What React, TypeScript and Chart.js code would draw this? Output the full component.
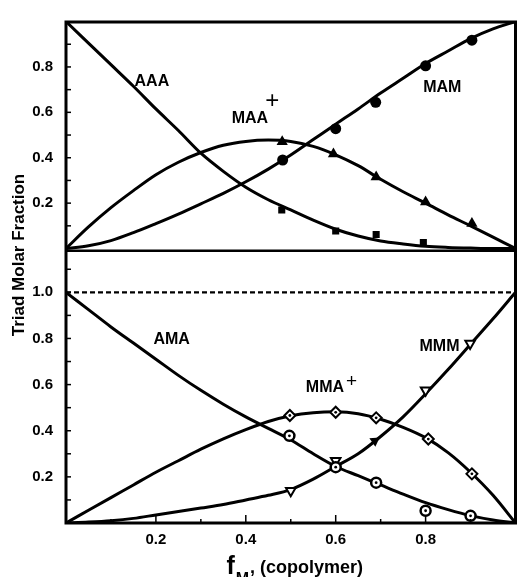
import React, { useEffect, useRef } from 'react';
import { Chart, registerables } from 'chart.js';
Chart.register(...registerables);

// composition axis (f_M, copolymer)
const fGrid = [0, 0.05, 0.1, 0.15, 0.2, 0.25, 0.3, 0.35, 0.4, 0.45, 0.5, 0.55, 0.6, 0.65, 0.7, 0.75, 0.8, 0.85, 0.9, 0.95, 1.0];

// top panel: A-centred triads (fitted curves)
const AAA_fit = [1.0, 0.905, 0.81, 0.715, 0.615, 0.52, 0.42, 0.34, 0.27, 0.215, 0.17, 0.125, 0.085, 0.055, 0.033, 0.02, 0.01, 0.005, 0.002, 0.0, 0.0];
const MAA_fit = [0, 0.095, 0.18, 0.255, 0.325, 0.38, 0.423, 0.455, 0.472, 0.478, 0.472, 0.45, 0.413, 0.365, 0.305, 0.25, 0.2, 0.148, 0.1, 0.05, 0];
const MAM_fit = [0, 0.012, 0.035, 0.07, 0.11, 0.152, 0.197, 0.243, 0.294, 0.35, 0.412, 0.48, 0.548, 0.615, 0.685, 0.75, 0.815, 0.87, 0.925, 0.968, 1.0];

// bottom panel: M-centred triads (fitted curves)
const AMA_fit = [1.0, 0.925, 0.85, 0.78, 0.71, 0.64, 0.575, 0.515, 0.46, 0.41, 0.36, 0.3, 0.245, 0.205, 0.165, 0.125, 0.088, 0.058, 0.032, 0.013, 0];
const MMA_fit = [0, 0.055, 0.11, 0.165, 0.22, 0.27, 0.32, 0.365, 0.405, 0.44, 0.465, 0.478, 0.482, 0.474, 0.45, 0.415, 0.37, 0.305, 0.22, 0.12, 0];
const MMM_fit = [0, 0.004, 0.01, 0.02, 0.035, 0.05, 0.065, 0.08, 0.1, 0.12, 0.145, 0.19, 0.245, 0.3, 0.375, 0.46, 0.56, 0.665, 0.775, 0.885, 1.0];

// experimental points, top panel
const AAA_ptX = [0.48, 0.6, 0.69, 0.795];
const AAA_ptY = [0.17, 0.077, 0.062, 0.026];
const MAA_ptX = [0.481, 0.595, 0.69, 0.8, 0.903];
const MAA_ptY = [0.47, 0.416, 0.315, 0.205, 0.11];
const MAM_ptX = [0.482, 0.6, 0.689, 0.8, 0.903];
const MAM_ptY = [0.39, 0.528, 0.644, 0.805, 0.918];

// experimental points, bottom panel
const AMA_ptX = [0.497, 0.6, 0.69, 0.8, 0.9];
const AMA_ptY = [0.378, 0.242, 0.175, 0.053, 0.031];
const MMA_ptX = [0.498, 0.6, 0.69, 0.806, 0.903];
const MMA_ptY = [0.466, 0.48, 0.456, 0.364, 0.213];
const MMM_ptX = [0.5, 0.6, 0.8, 0.899];
const MMM_ptY = [0.14, 0.27, 0.575, 0.778];
const MMM_solidX = [0.687];
const MMM_solidY = [0.356];

// reference line (sum = 1.0) in bottom panel
const refX = [0, 1];
const refY = [1.0, 1.0];

// tick labels
const xTickLabels = [0.2, 0.4, 0.6, 0.8];
const topTickLabels = [0.2, 0.4, 0.6, 0.8];
const bottomTickLabels = [0.2, 0.4, 0.6, 0.8, 1.0];
const xMinorTicks = [0.1, 0.2, 0.3, 0.4, 0.5, 0.6, 0.7, 0.8, 0.9];
const topMinorTicks = [0.1, 0.2, 0.3, 0.4, 0.5, 0.6, 0.7, 0.8, 0.9];
const bottomMinorTicks = [0.1, 0.2, 0.3, 0.4, 0.5, 0.6, 0.7, 0.8, 0.9, 1.0, 1.1];

// in-plot labels
const labelTexts = ['AAA', 'MAA', '+', 'MAM', 'AMA', 'MMA', '+', 'MMM'];
const labelF = [0.191, 0.409, 0.459, 0.837, 0.235, 0.576, 0.635, 0.831];
const labelV = [0.737, 0.572, 0.65, 0.707, 0.795, 0.586, 0.611, 0.765];
const labelAxis = ['yTop', 'yTop', 'yTop', 'yTop', 'yBot', 'yBot', 'yBot', 'yBot'];

const FONT = '"Liberation Sans", Arial, sans-serif';

const zip = (xs: number[], ys: number[]) => xs.map((x, i) => ({ x, y: ys[i] }));

const curve = (vals: number[], axis: string) => ({
  type: 'line' as const,
  data: zip(fGrid, vals),
  yAxisID: axis,
  borderColor: '#000',
  borderWidth: 3,
  pointRadius: 0,
  cubicInterpolationMode: 'monotone' as const,
  fill: false,
  order: 10,
});

const marks = (xs: number[], ys: number[], axis: string, order: number, style: any) => ({
  type: 'line' as const,
  data: zip(xs, ys),
  yAxisID: axis,
  showLine: false,
  pointBorderColor: '#000',
  order,
  ...style,
});

const decor = {
  id: 'decor',
  afterDatasetsDraw(chart: any) {
    const { ctx, chartArea: ca, scales } = chart;
    const x = scales.x;
    const yt = scales.yTop;
    const yb = scales.yBot;
    const line = (x1: number, y1: number, x2: number, y2: number) => {
      ctx.beginPath();
      ctx.moveTo(x1, y1);
      ctx.lineTo(x2, y2);
      ctx.stroke();
    };
    ctx.save();
    ctx.strokeStyle = '#000';
    ctx.fillStyle = '#000';
    ctx.lineWidth = 1.5;
    for (const v of topMinorTicks) {
      const py = yt.getPixelForValue(v);
      line(ca.left, py, ca.left + 5, py);
    }
    for (const v of bottomMinorTicks) {
      const py = yb.getPixelForValue(v);
      line(ca.left, py, ca.left + 5, py);
    }
    for (const v of xMinorTicks) {
      const px = x.getPixelForValue(v);
      const major = xTickLabels.some((t) => Math.abs(t - v) < 1e-6);
      line(px, ca.bottom, px, ca.bottom - (major ? 8 : 4));
    }
    // frame and panel divider
    ctx.lineWidth = 3;
    ctx.strokeRect(ca.left, ca.top, ca.right - ca.left, ca.bottom - ca.top);
    ctx.lineWidth = 2.5;
    line(ca.left, yt.bottom, ca.right, yt.bottom);

    // in-plot labels
    ctx.textAlign = 'center';
    ctx.textBaseline = 'middle';
    labelTexts.forEach((t, i) => {
      const sc = labelAxis[i] === 'yTop' ? yt : yb;
      if (t === '+') {
        ctx.font = `${labelAxis[i] === 'yTop' ? 24 : 19}px ${FONT}`;
      } else {
        ctx.font = `bold 16px ${FONT}`;
      }
      ctx.fillText(t, x.getPixelForValue(labelF[i]), sc.getPixelForValue(labelV[i]));
    });

    // y-axis title
    ctx.save();
    ctx.translate(19, 255);
    ctx.rotate(-Math.PI / 2);
    ctx.font = `bold 17px ${FONT}`;
    ctx.textAlign = 'center';
    ctx.textBaseline = 'middle';
    ctx.fillText('Triad Molar Fraction', 0, 0);
    ctx.restore();

    // x-axis title: f_M, (copolymer)
    ctx.textAlign = 'left';
    ctx.textBaseline = 'alphabetic';
    const cx = (ca.left + ca.right) / 2;
    ctx.font = `bold 18px ${FONT}`;
    const rest = ', (copolymer)';
    const wRest = ctx.measureText(rest).width;
    ctx.font = `bold 25px ${FONT}`;
    const wf = ctx.measureText('f').width;
    ctx.font = `bold 16px ${FONT}`;
    const wM = ctx.measureText('M').width;
    const total = wf + wM + wRest + 2;
    let tx = cx - total / 2 + 4;
    ctx.font = `bold 25px ${FONT}`;
    ctx.fillText('f', tx, 574);
    tx += wf + 1;
    ctx.font = `bold 16px ${FONT}`;
    ctx.fillText('M', tx, 584);
    tx += wM + 1;
    ctx.font = `bold 18px ${FONT}`;
    ctx.fillText(rest, tx, 573);
    ctx.restore();
  },
};

export default function App() {
  const ref = useRef<HTMLCanvasElement | null>(null);
  useEffect(() => {
    document.body.style.margin = '0';
    const canvas = ref.current!;
    const tickFont = { family: FONT, weight: 'bold' as const, size: 15 };
    const chart = new Chart(canvas, {
      type: 'line',
      data: {
        datasets: [
          curve(AAA_fit, 'yTop'),
          curve(MAA_fit, 'yTop'),
          curve(MAM_fit, 'yTop'),
          curve(AMA_fit, 'yBot'),
          curve(MMA_fit, 'yBot'),
          curve(MMM_fit, 'yBot'),
          {
            type: 'line',
            data: zip(refX, refY),
            yAxisID: 'yBot',
            borderColor: '#000',
            borderWidth: 2.2,
            borderDash: [5, 3],
            pointRadius: 0,
            order: 10,
          },
          marks(AAA_ptX, AAA_ptY, 'yTop', 5, { pointStyle: 'rect', pointRadius: 5, pointBackgroundColor: '#000', pointBorderWidth: 0 }),
          marks(MAA_ptX, MAA_ptY, 'yTop', 5, { pointStyle: 'triangle', pointRadius: 6.5, pointBackgroundColor: '#000', pointBorderWidth: 0 }),
          marks(MAM_ptX, MAM_ptY, 'yTop', 5, { pointStyle: 'circle', pointRadius: 5.5, pointBackgroundColor: '#000', pointBorderWidth: 0 }),
          marks(AMA_ptX, AMA_ptY, 'yBot', 5, { pointStyle: 'circle', pointRadius: 5, pointBackgroundColor: '#fff', pointBorderWidth: 2.5 }),
          marks(AMA_ptX, AMA_ptY, 'yBot', 1, { pointStyle: 'circle', pointRadius: 1.4, pointBackgroundColor: '#000', pointBorderWidth: 0 }),
          marks(MMA_ptX, MMA_ptY, 'yBot', 5, { pointStyle: 'rectRot', pointRadius: 5.5, pointBackgroundColor: '#fff', pointBorderWidth: 2 }),
          marks(MMA_ptX, MMA_ptY, 'yBot', 1, { pointStyle: 'circle', pointRadius: 1.4, pointBackgroundColor: '#000', pointBorderWidth: 0 }),
          marks(MMM_ptX, MMM_ptY, 'yBot', 5, { pointStyle: 'triangle', pointRotation: 180, pointRadius: 5.5, pointBackgroundColor: '#fff', pointBorderWidth: 2 }),
          marks(MMM_solidX, MMM_solidY, 'yBot', 5, { pointStyle: 'triangle', pointRotation: 55, pointRadius: 6, pointBackgroundColor: '#000', pointBorderWidth: 0 }),
        ] as any,
      },
      options: {
        responsive: false,
        animation: false,
        devicePixelRatio: 1,
        layout: { padding: { top: 15, right: 2, left: 0, bottom: 0 } },
        plugins: { legend: { display: false }, tooltip: { enabled: false } },
        scales: {
          x: {
            type: 'linear',
            position: 'bottom',
            min: 0,
            max: 1,
            grid: { display: false, drawTicks: false },
            border: { display: false },
            ticks: { padding: 8, font: tickFont, color: '#000', callback: (v: any) => Number(v).toFixed(1), maxRotation: 0 },
            afterBuildTicks: (s: any) => { s.ticks = xTickLabels.map((value) => ({ value })); },
            afterFit: (s: any) => { s.height = 54; },
          },
          yBot: {
            type: 'linear',
            position: 'left',
            stack: 'panels',
            stackWeight: 276,
            min: 0,
            max: 1.18,
            grid: { display: false, drawTicks: false },
            border: { display: false },
            ticks: { padding: 13, font: tickFont, color: '#000', callback: (v: any) => Number(v).toFixed(1) },
            afterBuildTicks: (s: any) => { s.ticks = bottomTickLabels.map((value) => ({ value })); },
            afterFit: (s: any) => { s.width = 66; },
          },
          yTop: {
            type: 'linear',
            position: 'left',
            stack: 'panels',
            stackWeight: 232,
            min: -0.01,
            max: 0.998,
            grid: { display: false, drawTicks: false },
            border: { display: false },
            ticks: { padding: 13, font: tickFont, color: '#000', callback: (v: any) => Number(v).toFixed(1) },
            afterBuildTicks: (s: any) => { s.ticks = topTickLabels.map((value) => ({ value })); },
            afterFit: (s: any) => { s.width = 66; },
          },
        } as any,
      },
      plugins: [decor],
    });
    return () => chart.destroy();
  }, []);
  return (
    <div style={{ width: 523, height: 577, background: '#fff' }}>
      <canvas ref={ref} width={523} height={577} style={{ display: 'block' }} />
    </div>
  );
}
